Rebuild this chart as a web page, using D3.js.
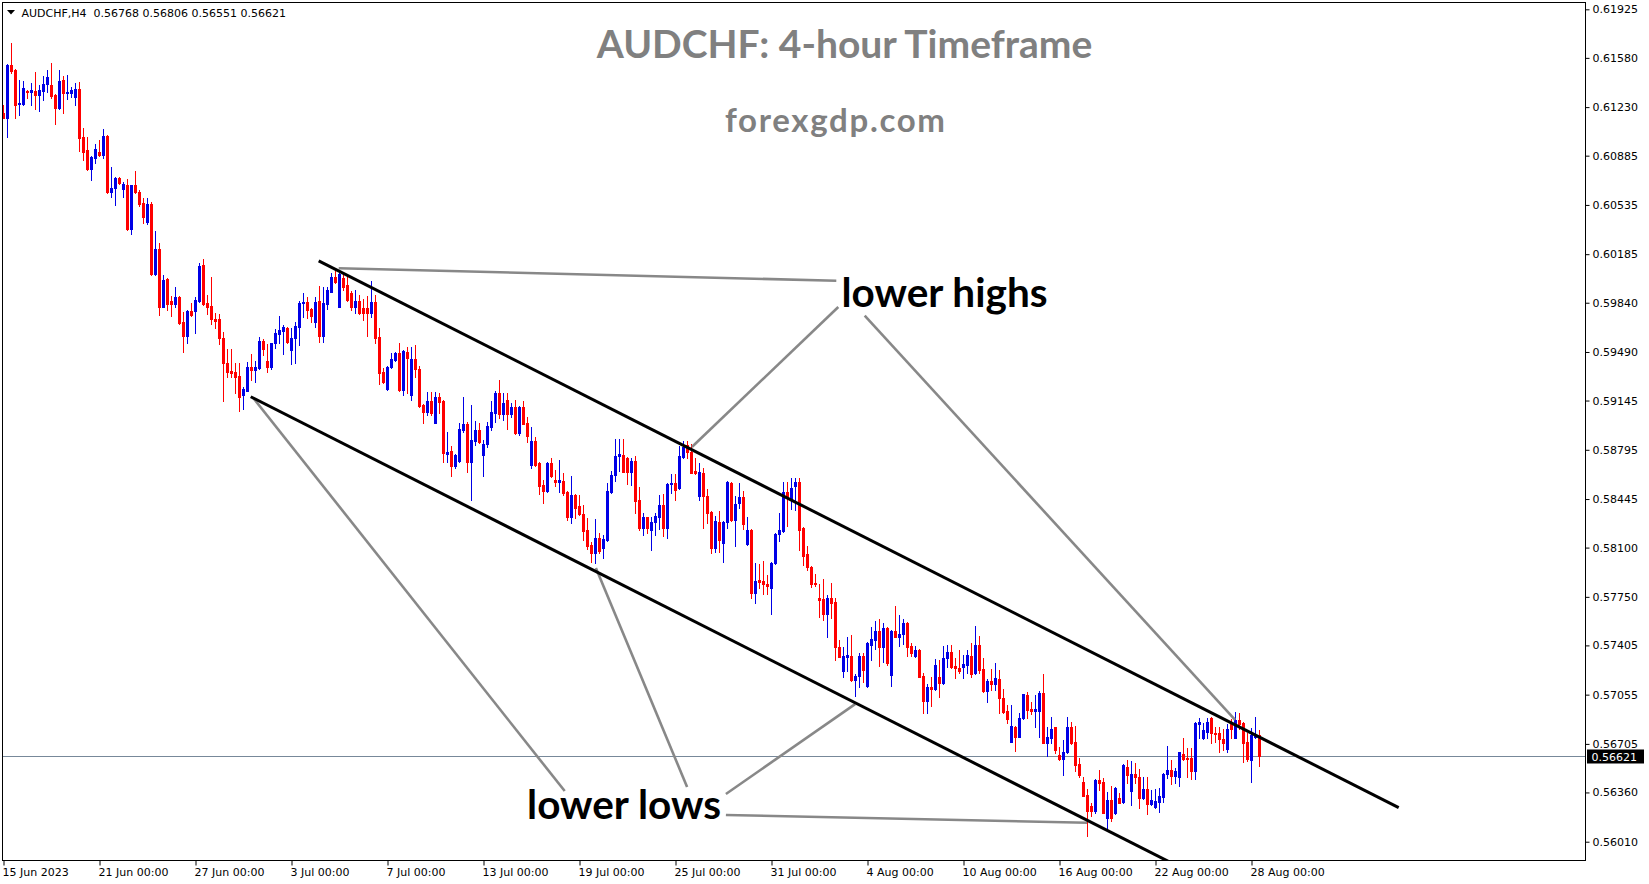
<!DOCTYPE html>
<html><head><meta charset="utf-8">
<script src="https://cdn.jsdelivr.net/npm/d3@7"></script>
<style>body{margin:0;background:#fff;overflow:hidden}svg{display:block}</style>
</head><body>
<script>
// ---- DATA (AUDCHF H4, bar 0 = 15 Jun 2023 00:00) ----
const openP = [0.61188,0.61155,0.61529,0.61494,0.61252,0.61252,0.61344,0.61339,0.61344,0.61316,0.61346,0.61392,0.61387,0.61316,0.61224,0.61423,0.61330,0.61332,0.61304,0.61359,0.61017,0.60925,0.60790,0.60870,0.60913,0.60890,0.61025,0.60624,0.60655,0.60728,0.60648,0.60676,0.60364,0.60676,0.60627,0.60548,0.60413,0.60541,0.60044,0.60222,0.59812,0.60008,0.59852,0.59831,0.59883,0.59703,0.59606,0.59781,0.59781,0.59852,0.60108,0.59836,0.59817,0.59724,0.59722,0.59587,0.59412,0.59357,0.59348,0.59321,0.59184,0.59215,0.59381,0.59362,0.59378,0.59568,0.59426,0.59385,0.59552,0.59618,0.59639,0.59662,0.59504,0.59587,0.59670,0.59836,0.59843,0.59793,0.59701,0.59852,0.59606,0.59829,0.59918,0.60021,0.59812,0.60014,0.59966,0.59907,0.59812,0.59854,0.59800,0.59800,0.59765,0.59847,0.59598,0.59350,0.59227,0.59381,0.59433,0.59480,0.59220,0.59490,0.59184,0.59440,0.59367,0.59113,0.59065,0.59142,0.58987,0.59168,0.59142,0.58765,0.58786,0.58680,0.58717,0.58935,0.58978,0.58706,0.58859,0.58935,0.58758,0.58836,0.58959,0.59058,0.59196,0.59049,0.59149,0.59049,0.59101,0.58912,0.59101,0.58983,0.58687,0.58859,0.58699,0.58545,0.58502,0.58699,0.58580,0.58568,0.58573,0.58497,0.58319,0.58474,0.58397,0.58339,0.58225,0.58118,0.58059,0.58166,0.58095,0.58154,0.58497,0.58616,0.58753,0.58758,0.58739,0.58639,0.58715,0.58438,0.58237,0.58315,0.58225,0.58280,0.58319,0.58402,0.58237,0.58552,0.58561,0.58521,0.58746,0.58829,0.58781,0.58644,0.58469,0.58628,0.58467,0.58355,0.58099,0.58284,0.58130,0.58284,0.58561,0.58296,0.58415,0.58462,0.58125,0.58225,0.57779,0.57869,0.57862,0.57841,0.57815,0.57988,0.58194,0.58218,0.58497,0.58438,0.58537,0.58568,0.58237,0.58054,0.57964,0.57850,0.57739,0.57732,0.57628,0.57739,0.57715,0.57396,0.57225,0.57320,0.57329,0.57159,0.57187,0.57329,0.57116,0.57408,0.57443,0.57507,0.57396,0.57531,0.57194,0.57507,0.57467,0.57484,0.57566,0.57401,0.57332,0.57372,0.57187,0.57012,0.57111,0.57095,0.57178,0.57140,0.57313,0.57360,0.57258,0.57242,0.57249,0.57265,0.57329,0.57206,0.57408,0.57237,0.57083,0.57154,0.57130,0.57166,0.57033,0.56939,0.56720,0.56827,0.56756,0.56887,0.57052,0.56953,0.56939,0.56941,0.57069,0.56713,0.56749,0.56823,0.56626,0.56597,0.56645,0.56827,0.56720,0.56562,0.56436,0.56342,0.56266,0.56230,0.56448,0.56436,0.56180,0.56306,0.56212,0.56318,0.56294,0.56543,0.56372,0.56491,0.56472,0.56318,0.56384,0.56276,0.56254,0.56294,0.56330,0.56491,0.56519,0.56477,0.56468,0.56633,0.56607,0.56602,0.56514,0.56844,0.56744,0.56792,0.56891,0.56785,0.56780,0.56737,0.56666,0.56851,0.56749,0.56875,0.56851,0.56720,0.56590,0.56756,0.56768];
const highP = [0.61245,0.61535,0.61685,0.61500,0.61423,0.61418,0.61350,0.61401,0.61482,0.61387,0.61451,0.61494,0.61541,0.61320,0.61494,0.61451,0.61458,0.61373,0.61401,0.61408,0.61081,0.61017,0.60880,0.60968,0.60996,0.61074,0.61030,0.60807,0.60735,0.60735,0.60700,0.60719,0.60680,0.60776,0.60641,0.60584,0.60584,0.60556,0.60350,0.60262,0.60037,0.60015,0.59890,0.59952,0.59890,0.59776,0.59785,0.59838,0.59883,0.60120,0.60151,0.59895,0.60023,0.59767,0.59760,0.59632,0.59511,0.59511,0.59412,0.59412,0.59243,0.59417,0.59475,0.59426,0.59598,0.59580,0.59547,0.59556,0.59653,0.59748,0.59682,0.59670,0.59658,0.59701,0.59854,0.59911,0.59883,0.59800,0.59883,0.59959,0.59954,0.59954,0.60053,0.60072,0.60049,0.60044,0.60037,0.59923,0.59930,0.59895,0.59864,0.59888,0.59996,0.59895,0.59658,0.59374,0.59390,0.59485,0.59491,0.59552,0.59504,0.59527,0.59527,0.59539,0.59390,0.59118,0.59203,0.59203,0.59208,0.59196,0.59150,0.58923,0.58822,0.58765,0.58983,0.59172,0.58994,0.59113,0.59001,0.58987,0.58864,0.58994,0.59142,0.59215,0.59291,0.59196,0.59200,0.59129,0.59149,0.59108,0.59142,0.59030,0.58959,0.58888,0.58710,0.58580,0.58710,0.58734,0.58651,0.58722,0.58632,0.58502,0.58609,0.58481,0.58474,0.58402,0.58308,0.58142,0.58303,0.58201,0.58189,0.58557,0.58644,0.58869,0.58869,0.58871,0.58745,0.58734,0.58751,0.58533,0.58343,0.58320,0.58315,0.58343,0.58474,0.58481,0.58561,0.58623,0.58623,0.58824,0.58857,0.58857,0.58836,0.58739,0.58699,0.58663,0.58514,0.58362,0.58324,0.58362,0.58289,0.58573,0.58568,0.58467,0.58561,0.58502,0.58319,0.58230,0.57988,0.57981,0.58005,0.57905,0.58000,0.58201,0.58343,0.58568,0.58568,0.58592,0.58592,0.58592,0.58245,0.58111,0.57970,0.57912,0.57841,0.57874,0.57763,0.57846,0.57739,0.57443,0.57396,0.57462,0.57479,0.57202,0.57349,0.57349,0.57431,0.57538,0.57578,0.57592,0.57562,0.57538,0.57514,0.57687,0.57621,0.57590,0.57573,0.57424,0.57401,0.57377,0.57206,0.57128,0.57178,0.57308,0.57301,0.57401,0.57408,0.57408,0.57313,0.57372,0.57337,0.57372,0.57420,0.57543,0.57472,0.57313,0.57164,0.57237,0.57282,0.57230,0.57093,0.56981,0.56981,0.56832,0.56927,0.57060,0.57076,0.57005,0.57052,0.57083,0.57202,0.56827,0.56898,0.56827,0.56685,0.56733,0.56898,0.56858,0.56832,0.56602,0.56467,0.56382,0.56283,0.56453,0.56519,0.56460,0.56365,0.56406,0.56397,0.56354,0.56560,0.56590,0.56585,0.56567,0.56524,0.56468,0.56468,0.56377,0.56382,0.56389,0.56496,0.56690,0.56590,0.56531,0.56649,0.56745,0.56674,0.56674,0.56858,0.56887,0.56851,0.56887,0.56896,0.56823,0.56823,0.56809,0.56844,0.56880,0.56934,0.56927,0.56858,0.56780,0.56816,0.56898,0.56806];
const lowP = [0.61153,0.61017,0.61472,0.61153,0.61174,0.61245,0.61295,0.61245,0.61216,0.61204,0.61280,0.61339,0.61292,0.61110,0.61218,0.61188,0.61288,0.61304,0.61245,0.60920,0.60854,0.60783,0.60712,0.60833,0.60885,0.60870,0.60620,0.60593,0.60534,0.60685,0.60593,0.60357,0.60328,0.60620,0.60529,0.60406,0.60399,0.60037,0.60040,0.59753,0.59808,0.59788,0.59748,0.59812,0.59689,0.59492,0.59556,0.59748,0.59627,0.59845,0.59825,0.59758,0.59689,0.59662,0.59544,0.59144,0.59314,0.59314,0.59198,0.59073,0.59083,0.59210,0.59291,0.59279,0.59370,0.59468,0.59350,0.59367,0.59516,0.59552,0.59473,0.59552,0.59402,0.59414,0.59539,0.59741,0.59730,0.59705,0.59670,0.59563,0.59563,0.59793,0.59915,0.59980,0.59812,0.59930,0.59854,0.59788,0.59765,0.59760,0.59717,0.59606,0.59741,0.59552,0.59262,0.59267,0.59222,0.59376,0.59428,0.59215,0.59184,0.59196,0.59149,0.59314,0.59101,0.58987,0.59042,0.59042,0.58983,0.59058,0.58710,0.58710,0.58609,0.58663,0.58710,0.58923,0.58635,0.58438,0.58829,0.58841,0.58609,0.58817,0.58935,0.58994,0.59019,0.59006,0.58943,0.59026,0.58907,0.58900,0.58975,0.58852,0.58663,0.58680,0.58481,0.58419,0.58497,0.58599,0.58537,0.58497,0.58474,0.58296,0.58272,0.58308,0.58331,0.58154,0.58090,0.58000,0.57988,0.58059,0.58024,0.58150,0.58490,0.58575,0.58646,0.58635,0.58550,0.58545,0.58348,0.58225,0.58189,0.58201,0.58083,0.58189,0.58232,0.58182,0.58170,0.58490,0.58438,0.58514,0.58740,0.58734,0.58628,0.58623,0.58438,0.58237,0.58277,0.58064,0.58071,0.58071,0.58000,0.58237,0.58291,0.58111,0.58379,0.58232,0.58120,0.57739,0.57704,0.57810,0.57768,0.57768,0.57626,0.57983,0.58149,0.58213,0.58253,0.58372,0.58367,0.58083,0.57976,0.57941,0.57822,0.57827,0.57609,0.57585,0.57462,0.57597,0.57301,0.57320,0.57178,0.57225,0.57154,0.57045,0.57111,0.57147,0.57107,0.57301,0.57377,0.57258,0.57289,0.57265,0.57116,0.57462,0.57401,0.57415,0.57332,0.57329,0.57320,0.57178,0.56922,0.56927,0.56974,0.57088,0.57040,0.57130,0.57249,0.57244,0.57175,0.57211,0.57175,0.57211,0.57178,0.57200,0.57206,0.57076,0.57005,0.57088,0.57088,0.56922,0.56927,0.56855,0.56715,0.56657,0.56752,0.56882,0.56887,0.56917,0.56827,0.56756,0.56709,0.56621,0.56709,0.56637,0.56590,0.56484,0.56637,0.56704,0.56514,0.56467,0.56335,0.56053,0.56193,0.56216,0.56377,0.56212,0.56093,0.56159,0.56207,0.56282,0.56287,0.56425,0.56271,0.56425,0.56247,0.56313,0.56207,0.56271,0.56247,0.56223,0.56294,0.56460,0.56420,0.56429,0.56406,0.56590,0.56467,0.56453,0.56453,0.56744,0.56739,0.56744,0.56713,0.56720,0.56645,0.56661,0.56649,0.56749,0.56744,0.56809,0.56578,0.56585,0.56436,0.56749,0.56551];
const closeP = [0.61153,0.61529,0.61487,0.61245,0.61261,0.61364,0.61341,0.61351,0.61316,0.61351,0.61394,0.61446,0.61311,0.61226,0.61415,0.61330,0.61339,0.61351,0.61356,0.61012,0.60913,0.60790,0.60878,0.60932,0.60890,0.61025,0.60624,0.60657,0.60728,0.60688,0.60681,0.60364,0.60676,0.60624,0.60541,0.60449,0.60541,0.60044,0.60222,0.59812,0.60001,0.59831,0.59831,0.59883,0.59696,0.59606,0.59781,0.59753,0.59859,0.60101,0.59831,0.59812,0.59722,0.59712,0.59587,0.59409,0.59350,0.59343,0.59314,0.59172,0.59225,0.59381,0.59362,0.59381,0.59568,0.59511,0.59385,0.59552,0.59623,0.59646,0.59670,0.59559,0.59587,0.59677,0.59840,0.59843,0.59788,0.59748,0.59847,0.59606,0.59836,0.59930,0.60021,0.59985,0.60044,0.59954,0.59859,0.59812,0.59854,0.59765,0.59765,0.59769,0.59847,0.59591,0.59343,0.59279,0.59385,0.59440,0.59480,0.59220,0.59497,0.59445,0.59440,0.59367,0.59108,0.59065,0.59142,0.59058,0.59172,0.59137,0.58770,0.58777,0.58680,0.58758,0.58943,0.58978,0.58706,0.58864,0.58935,0.58852,0.58836,0.58964,0.59065,0.59200,0.59049,0.59129,0.59049,0.59101,0.58912,0.59101,0.58978,0.58893,0.58859,0.58687,0.58540,0.58502,0.58699,0.58609,0.58568,0.58580,0.58490,0.58319,0.58474,0.58379,0.58339,0.58220,0.58113,0.58059,0.58166,0.58078,0.58159,0.58502,0.58616,0.58753,0.58763,0.58639,0.58639,0.58715,0.58433,0.58237,0.58315,0.58237,0.58280,0.58324,0.58402,0.58237,0.58552,0.58561,0.58509,0.58751,0.58813,0.58777,0.58632,0.58632,0.58635,0.58467,0.58348,0.58099,0.58289,0.58154,0.58284,0.58568,0.58296,0.58410,0.58462,0.58267,0.58225,0.57779,0.57862,0.57857,0.57839,0.57829,0.57988,0.58196,0.58225,0.58497,0.58467,0.58525,0.58568,0.58225,0.58040,0.57960,0.57841,0.57839,0.57727,0.57628,0.57739,0.57704,0.57391,0.57324,0.57332,0.57337,0.57159,0.57187,0.57329,0.57230,0.57424,0.57448,0.57507,0.57396,0.57531,0.57282,0.57507,0.57467,0.57486,0.57566,0.57396,0.57353,0.57372,0.57182,0.57012,0.57111,0.57095,0.57265,0.57135,0.57317,0.57360,0.57249,0.57242,0.57223,0.57273,0.57337,0.57202,0.57408,0.57230,0.57083,0.57154,0.57130,0.57171,0.57029,0.56934,0.56882,0.56832,0.56756,0.56891,0.57057,0.56946,0.56941,0.56951,0.57069,0.56713,0.56756,0.56811,0.56661,0.56595,0.56649,0.56827,0.56713,0.56555,0.56484,0.56337,0.56230,0.56230,0.56448,0.56429,0.56216,0.56306,0.56180,0.56394,0.56287,0.56555,0.56484,0.56491,0.56468,0.56318,0.56384,0.56276,0.56306,0.56299,0.56335,0.56491,0.56519,0.56477,0.56512,0.56645,0.56597,0.56597,0.56514,0.56851,0.56863,0.56804,0.56858,0.56780,0.56775,0.56737,0.56709,0.56809,0.56809,0.56875,0.56846,0.56713,0.56595,0.56768,0.56768,0.56621];

const timeTickBars = [0,24,48,72,96,120,144,168,192,216,240,264,288,312];
const timeTickLabels = ["15 Jun 2023","21 Jun 00:00","27 Jun 00:00","3 Jul 00:00","7 Jul 00:00","13 Jul 00:00","19 Jul 00:00","25 Jul 00:00","31 Jul 00:00","4 Aug 00:00","10 Aug 00:00","16 Aug 00:00","22 Aug 00:00","28 Aug 00:00"];
const priceTicks = [0.61925,0.61580,0.61230,0.60885,0.60535,0.60185,0.59840,0.59490,0.59145,0.58795,0.58445,0.58100,0.57750,0.57405,0.57055,0.56705,0.56360,0.56010];
const currentPrice = 0.56621;
const headerText = "AUDCHF,H4  0.56768 0.56806 0.56551 0.56621";
const titleText = "AUDCHF: 4-hour Timeframe";
const siteText = "forexgdp.com";

// trend channel (bar index, price)
const channelUpper = [[78.8,0.60138],[348.8,0.56252]];
const channelLower = [[61.8,0.59172],[300,0.55744]];
// annotation pointer lines (bar index, price)
const highPointers = [
  [[83.8,0.60085],[208.2,0.59996]],
  [[208.7,0.59810],[172.1,0.58815]],
  [[215.3,0.59749],[307.9,0.56875]]
];
const lowPointers = [
  [[62.5,0.59161],[140.3,0.56370]],
  [[148.1,0.57955],[170.9,0.56399]],
  [[180.6,0.56349],[212.9,0.56988]],
  [[180.6,0.56200],[270.9,0.56145]]
];
const annotations = [
  {text:"lower highs", bar:209.5, price:0.59813},
  {text:"lower lows", bar:130.9, price:0.56170}
];

// ---- LAYOUT ----
const W = 1649, H = 884;
const L = 2.5, T = 2.5, R = 1585.5, B = 860.5;
const svg = d3.select("body").append("svg").attr("width", W).attr("height", H)
  .style("font-family", "'DejaVu Sans', Tahoma, sans-serif");
svg.append("rect").attr("width", W).attr("height", H).attr("fill", "#fff");

const n = openP.length;
const x = d3.scaleLinear().domain([0, 1]).range([3.5, 7.5]);
const y = d3.scaleLinear().domain([0.55880, 0.61977]).range([860, 2]);

svg.append("defs").append("clipPath").attr("id", "plotclip")
  .append("rect").attr("x", L).attr("y", T).attr("width", R - L).attr("height", B - T);
const plot = svg.append("g").attr("clip-path", "url(#plotclip)");

// current price line
plot.append("line").attr("x1", L).attr("x2", R)
  .attr("y1", Math.round(y(currentPrice)) + 0.5).attr("y2", Math.round(y(currentPrice)) + 0.5)
  .attr("stroke", "#778899").attr("stroke-width", 1);

// candles
const bars = d3.range(n).map(i => ({i, o: openP[i], h: highP[i], l: lowP[i], c: closeP[i]}));
const cg = plot.append("g");
const up = "#0000e6", dn = "#ff0000";
cg.selectAll("line.w").data(bars).join("line").attr("class", "w")
  .attr("x1", d => x(d.i)).attr("x2", d => x(d.i))
  .attr("y1", d => Math.round(y(Math.max(d.h, d.o, d.c))))
  .attr("y2", d => Math.round(y(Math.min(d.l, d.o, d.c))) + 1)
  .attr("stroke", d => d.c < d.o ? dn : up).attr("stroke-width", 1);
cg.selectAll("rect.b").data(bars).join("rect").attr("class", "b")
  .attr("x", d => x(d.i) - 1.5).attr("width", 3)
  .attr("y", d => Math.round(y(Math.max(d.o, d.c))))
  .attr("height", d => Math.max(1, Math.round(y(Math.min(d.o, d.c))) - Math.round(y(Math.max(d.o, d.c))) + 1))
  .attr("fill", d => d.c < d.o ? dn : up);

// lines
const lineGen = d3.line().x(d => x(d[0])).y(d => y(d[1]));
const pointers = highPointers.concat(lowPointers);
plot.selectAll("path.ptr").data(pointers).join("path").attr("class", "ptr")
  .attr("d", lineGen).attr("fill", "none").attr("stroke", "#888888").attr("stroke-width", 2.6);
plot.selectAll("path.ch").data([channelUpper, channelLower]).join("path").attr("class", "ch")
  .attr("d", lineGen).attr("fill", "none").attr("stroke", "#000").attr("stroke-width", 3);

// annotation texts
svg.selectAll("text.ann").data(annotations).join("text").attr("class", "ann")
  .attr("x", d => x(d.bar)).attr("y", d => y(d.price))
  .attr("font-family", "Lato, 'Open Sans', sans-serif").attr("font-weight", 700)
  .attr("font-size", 40.5).attr("fill", "#000").text(d => d.text);

// title texts
svg.append("text").attr("x", 844.5).attr("y", 58.3).attr("text-anchor", "middle")
  .attr("font-family", "Lato, 'Open Sans', sans-serif").attr("font-weight", 700)
  .attr("font-size", 39).attr("fill", "#808080").text(titleText);
svg.append("text").attr("x", 835).attr("y", 131.7).attr("text-anchor", "middle")
  .attr("font-family", "Lato, 'Open Sans', sans-serif").attr("font-weight", 700)
  .attr("font-size", 33).attr("fill", "#808080")
  .attr("textLength", 220).attr("lengthAdjust", "spacing").text(siteText);

// frame
svg.append("rect").attr("x", L).attr("y", T).attr("width", R - L).attr("height", B - T)
  .attr("fill", "none").attr("stroke", "#000").attr("stroke-width", 1);

// y axis
const yAxis = d3.axisRight(y).tickValues(priceTicks).tickSize(4).tickPadding(3)
  .tickFormat(d3.format(".5f"));
const yg = svg.append("g").attr("transform", `translate(${R},0)`).call(yAxis);
yg.select(".domain").remove();
yg.selectAll(".tick line").attr("stroke", "#000");
yg.selectAll(".tick text").attr("font-size", 11).attr("fill", "#000")
  .attr("font-family", "'DejaVu Sans', Tahoma, sans-serif");

// current price label
const cpY = Math.round(y(currentPrice)) + 0.5;
svg.append("rect").attr("x", R + 1.5).attr("y", cpY - 7).attr("width", 57).attr("height", 14).attr("fill", "#000");
svg.append("text").attr("x", R + 6).attr("y", cpY + 4).attr("font-size", 11).attr("fill", "#fff")
  .text(d3.format(".5f")(currentPrice));

// x axis
const xAxis = d3.axisBottom(x).tickValues(timeTickBars).tickSize(5).tickPadding(3)
  .tickFormat((d, k) => timeTickLabels[k]);
const xg = svg.append("g").attr("transform", `translate(0,${B})`).call(xAxis);
xg.select(".domain").remove();
xg.selectAll(".tick line").attr("stroke", "#000");
xg.selectAll(".tick text").attr("text-anchor", "start").attr("dx", "-1.5")
  .attr("font-size", 11).attr("fill", "#000")
  .attr("font-family", "'DejaVu Sans', Tahoma, sans-serif");

// header
svg.append("path").attr("d", "M7,10 L15,10 L11,14.5 Z").attr("fill", "#000");
svg.append("text").attr("x", 21.5).attr("y", 16.5).attr("font-size", 11).attr("fill", "#000")
  .attr("xml:space", "preserve").style("white-space", "pre").text(headerText);
</script>
</body></html>
